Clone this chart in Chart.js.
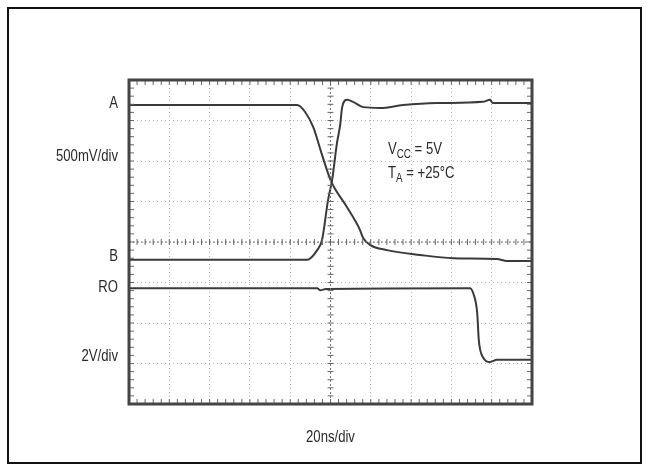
<!DOCTYPE html>
<html lang="en">
<head>
    <meta charset="UTF-8">
    <title>Receiver propagation delay</title>
    <script src="https://cdn.jsdelivr.net/npm/chart.js"></script>
    <style>
        html, body {
            margin: 0;
            padding: 0;
            background: #fff;
        }
        .scope {
            position: relative;
            width: 646px;
            height: 466px;
        }
    </style>
</head>
<body>
    <div class="scope">
        <canvas id="scopeChart"></canvas>
    </div>

    <script>
        // grid divisions: 10 across (20ns/div), 8 down
        const xDivs = [0, 1, 2, 3, 4, 5, 6, 7, 8, 9, 10];
        const yDivs = [0, 1, 2, 3, 4, 5, 6, 7, 8];

        // trace A (falls)
        const aX = [0, 4.17, 4.37, 4.57, 4.79, 5.01, 5.41, 5.73, 5.81, 5.98, 6.40, 7.22, 8.04, 9.13, 9.38, 10];
        const aY = [7.38, 7.38, 7.21, 6.84, 6.15, 5.51, 4.86, 4.30, 4.10, 3.93, 3.80, 3.68, 3.60, 3.58, 3.53, 3.53];

        // trace B (rises)
        const bX = [0, 4.42, 4.67, 4.79, 4.94, 5.04, 5.16, 5.24, 5.29, 5.41, 5.56, 5.81, 6.23, 6.80, 7.64, 8.78, 8.96, 9.03, 10];
        const bY = [3.56, 3.56, 3.80, 4.05, 5.04, 5.53, 6.44, 6.89, 7.33, 7.51, 7.46, 7.33, 7.31, 7.38, 7.43, 7.46, 7.51, 7.43, 7.43];

        // receiver output RO
        const roX = [0, 4.67, 4.74, 4.89, 8.46, 8.54, 8.64, 8.68, 8.78, 8.96, 9.13, 10];
        const roY = [2.86, 2.86, 2.81, 2.84, 2.86, 2.74, 2.25, 1.58, 1.16, 1.04, 1.09, 1.09];

        const FONT = '"Liberation Sans", Arial, sans-serif';
        const NARROW = 0.82; // Arial -> Arial Narrow look
        const INK = '#2a2a2a';

        function toPoints(xs, ys) {
            return xs.map((x, i) => ({ x: x, y: ys[i] }));
        }

        function trace(label, xs, ys) {
            return {
                label: label,
                data: toPoints(xs, ys),
                showLine: true,
                borderColor: '#3a3a3a',
                borderWidth: 2,
                pointRadius: 0,
                cubicInterpolationMode: 'monotone',
                fill: false
            };
        }

        // condensed text, returns drawn width
        function narrowText(ctx, text, x, y, size, align) {
            ctx.save();
            ctx.font = size + 'px ' + FONT;
            ctx.textAlign = align || 'left';
            ctx.translate(x, y);
            ctx.scale(NARROW, 1);
            ctx.fillText(text, 0, 0);
            const w = ctx.measureText(text).width * NARROW;
            ctx.restore();
            return w;
        }

        // frame, crosshair ticks and labels
        const scopeDecor = {
            id: 'scopeDecor',
            beforeDraw(chart) {
                const ctx = chart.ctx;
                ctx.save();
                ctx.fillStyle = '#fff';
                ctx.fillRect(0, 0, chart.width, chart.height);
                ctx.strokeStyle = '#111';
                ctx.lineWidth = 2;
                ctx.strokeRect(8, 8, 633, 455);
                ctx.restore();
            },
            afterDatasetsDraw(chart) {
                const ctx = chart.ctx;
                const xs = chart.scales.x, ys = chart.scales.y;
                const L = xs.getPixelForValue(0), R = xs.getPixelForValue(10);
                const T = ys.getPixelForValue(8), B = ys.getPixelForValue(0);
                const cx = xs.getPixelForValue(5), cy = ys.getPixelForValue(4);
                ctx.save();

                // centre crosshair
                ctx.strokeStyle = '#777';
                ctx.lineWidth = 1;
                ctx.setLineDash([2, 2]);
                ctx.beginPath();
                ctx.moveTo(cx, T); ctx.lineTo(cx, B);
                ctx.moveTo(L, cy); ctx.lineTo(R, cy);
                ctx.stroke();
                ctx.setLineDash([]);

                // minor ticks every 0.2 div
                ctx.strokeStyle = '#666';
                ctx.beginPath();
                for (let i = 0; i <= 50; i++) {
                    const px = xs.getPixelForValue(i / 5);
                    ctx.moveTo(px, cy - 3); ctx.lineTo(px, cy + 3);
                    ctx.moveTo(px, T); ctx.lineTo(px, T + 5);
                    ctx.moveTo(px, B); ctx.lineTo(px, B - 5);
                }
                for (let i = 0; i <= 40; i++) {
                    const py = ys.getPixelForValue(i / 5);
                    ctx.moveTo(cx - 3, py); ctx.lineTo(cx + 3, py);
                    ctx.moveTo(L, py); ctx.lineTo(L + 5, py);
                    ctx.moveTo(R, py); ctx.lineTo(R - 5, py);
                }
                ctx.stroke();

                // plot frame
                ctx.strokeStyle = '#444';
                ctx.lineWidth = 3;
                ctx.strokeRect(L, T, R - L, B - T);

                // labels
                ctx.fillStyle = INK;
                ctx.textBaseline = 'middle';
                narrowText(ctx, 'A', 118, 104, 16, 'right');
                narrowText(ctx, '500mV/div', 118, 157, 16, 'right');
                narrowText(ctx, 'B', 118, 257, 16, 'right');
                narrowText(ctx, 'RO', 118, 288, 16, 'right');
                narrowText(ctx, '2V/div', 118, 357, 16, 'right');
                narrowText(ctx, '20ns/div', cx, 438, 16, 'center');

                // conditions
                ctx.textBaseline = 'alphabetic';
                let x = 388;
                x += narrowText(ctx, 'V', x, 154, 16);
                x += narrowText(ctx, 'CC', x, 158, 12);
                narrowText(ctx, ' = 5V', x, 154, 16);
                x = 388;
                x += narrowText(ctx, 'T', x, 178, 16);
                x += narrowText(ctx, 'A', x, 182, 12);
                narrowText(ctx, ' = +25°C', x, 178, 16);
                ctx.restore();
            }
        };

        function noSize(scale) {
            if (scale.isHorizontal()) scale.height = 0; else scale.width = 0;
        }

        new Chart(document.getElementById('scopeChart').getContext('2d'), {
            type: 'scatter',
            data: {
                datasets: [trace('A', aX, aY), trace('B', bX, bY), trace('RO', roX, roY)]
            },
            options: {
                responsive: true,
                maintainAspectRatio: false,
                animation: false,
                layout: { padding: { left: 129, top: 80, right: 114, bottom: 62 } },
                plugins: {
                    legend: { display: false },
                    tooltip: { enabled: false }
                },
                scales: {
                    x: {
                        type: 'linear',
                        min: xDivs[0],
                        max: xDivs[xDivs.length - 1],
                        afterBuildTicks: s => { s.ticks = xDivs.map(v => ({ value: v })); },
                        afterFit: noSize,
                        ticks: { display: false },
                        border: { display: false, dash: [1, 3] },
                        grid: { color: '#b5b5b5', lineWidth: 1, drawTicks: false }
                    },
                    y: {
                        type: 'linear',
                        min: yDivs[0],
                        max: yDivs[yDivs.length - 1],
                        afterBuildTicks: s => { s.ticks = yDivs.map(v => ({ value: v })); },
                        afterFit: noSize,
                        ticks: { display: false },
                        border: { display: false, dash: [1, 3] },
                        grid: { color: '#b5b5b5', lineWidth: 1, drawTicks: false }
                    }
                }
            },
            plugins: [scopeDecor]
        });
    </script>
</body>
</html>
